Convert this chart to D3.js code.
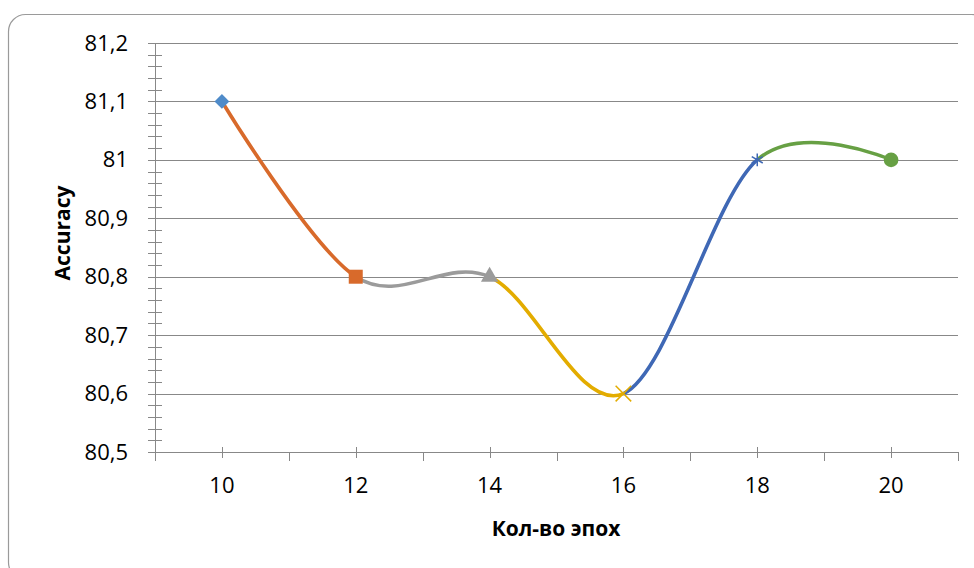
<!DOCTYPE html>
<meta charset="utf-8">

<style>

body {
  margin: 0;
  background: white;
}

svg.chart text {
  font-family: "Open Sans", sans-serif;
  fill: black;
}

svg.chart .grid line,
svg.chart .ticks line,
svg.chart .axisline {
  stroke: #888;
  stroke-width: 1;
}

svg.chart .axis path,
svg.chart .axis line {
  display: none;
}

svg.chart .axis text {
  font-size: 22px;
}

svg.chart text.title {
  font-size: 21px;
  font-weight: bold;
  text-anchor: middle;
}

</style>

<svg class="chart" width="974" height="568"></svg>

<script src="https://d3js.org/d3.v7.min.js"></script>

<script>

// data
var epochs = ["10", "12", "14", "16", "18", "20"];
var accuracy = [81.1, 80.8, 80.8, 80.6, 81.0, 81.0];
var pointColors = ["#4F8BC9", "#D86A2B", "#9B9B9B", "#E3AC00", "#3F68B5", "#67A044"];
var yTicks = [80.5, 80.6, 80.7, 80.8, 80.9, 81.0, 81.1, 81.2];
var yTickLabels = ["80,5", "80,6", "80,7", "80,8", "80,9", "81", "81,1", "81,2"];
var yMinorTicks = d3.range(80.5, 81.2001, 0.02);

var svg = d3.select("svg.chart");
var plot = {left: 155, right: 958, top: 43, bottom: 452};

// chart area frame
svg.append("rect")
  .attr("x", 8.5)
  .attr("y", 14.5)
  .attr("width", 980)
  .attr("height", 565)
  .attr("rx", 17)
  .attr("fill", "white")
  .attr("stroke", "#9a9a9a")
  .attr("stroke-width", 1.2);

var xScale = d3.scaleBand()
  .domain(epochs)
  .range([plot.left, plot.right]);

var yScale = d3.scaleLinear()
  .domain([80.5, 81.2])
  .range([plot.bottom, plot.top]);

function xCenter(d) { return xScale(d) + xScale.bandwidth() / 2; }

// gridlines
svg.append("g")
  .attr("class", "grid")
  .selectAll("line")
  .data(yTicks)
  .enter().append("line")
    .attr("x1", plot.left)
    .attr("x2", plot.right)
    .attr("y1", function(d) { return Math.round(yScale(d)) + 0.5; })
    .attr("y2", function(d) { return Math.round(yScale(d)) + 0.5; });

// y axis
var yAxis = d3.axisLeft(yScale)
  .tickValues(yTicks)
  .tickSize(0)
  .tickPadding(27)
  .tickFormat(function(d, i) { return yTickLabels[i]; });

svg.append("g")
  .attr("class", "y axis")
  .attr("transform", `translate(${plot.left},0)`)
  .call(yAxis);

var yTickG = svg.append("g").attr("class", "ticks");
yTickG.selectAll("line")
  .data(yMinorTicks)
  .enter().append("line")
    .attr("x1", plot.left - 7)
    .attr("x2", plot.left + 7)
    .attr("y1", function(d) { return Math.round(yScale(d)) + 0.5; })
    .attr("y2", function(d) { return Math.round(yScale(d)) + 0.5; });

svg.append("line")
  .attr("class", "axisline")
  .attr("x1", plot.left + 0.5)
  .attr("x2", plot.left + 0.5)
  .attr("y1", plot.top)
  .attr("y2", plot.bottom);

// x axis
var xAxis = d3.axisBottom(xScale)
  .tickSize(0)
  .tickPadding(25);

svg.append("g")
  .attr("class", "x axis")
  .attr("transform", `translate(0,${plot.bottom})`)
  .call(xAxis);

var xTickG = svg.append("g").attr("class", "ticks");
var bounds = epochs.map(function(d) { return xScale(d); }).concat([plot.right]);
xTickG.selectAll("line.major")
  .data(bounds)
  .enter().append("line")
    .attr("class", "major")
    .attr("x1", function(d) { return Math.round(d) + 0.5; })
    .attr("x2", function(d) { return Math.round(d) + 0.5; })
    .attr("y1", plot.bottom)
    .attr("y2", plot.bottom + 9);

xTickG.selectAll("line.minor")
  .data(epochs)
  .enter().append("line")
    .attr("class", "minor")
    .attr("x1", function(d) { return Math.round(xCenter(d)) + 0.5; })
    .attr("x2", function(d) { return Math.round(xCenter(d)) + 0.5; })
    .attr("y1", plot.bottom - 5)
    .attr("y2", plot.bottom + 6);

svg.append("line")
  .attr("class", "axisline")
  .attr("x1", plot.left)
  .attr("x2", plot.right)
  .attr("y1", plot.bottom + 0.5)
  .attr("y2", plot.bottom + 0.5);

// axis titles
svg.append("text")
  .attr("class", "title")
  .attr("transform", "translate(70,233) rotate(-90)")
  .text("Accuracy");

svg.append("text")
  .attr("class", "title")
  .attr("x", 556)
  .attr("y", 536)
  .text("Кол-во эпох");

// smoothed line, each segment coloured by its end point
var data = epochs.map(function(d, i) { return {epoch: d, value: accuracy[i], color: pointColors[i]}; });

var line = d3.line()
  .x(function(d) { return xCenter(d.epoch); })
  .y(function(d) { return yScale(d.value); })
  .curve(d3.curveCardinal.tension(0));

var defs = svg.append("defs");
data.slice(1).forEach(function(d, i) {
  defs.append("clipPath")
    .attr("id", "seg" + i)
    .append("rect")
      .attr("x", xCenter(data[i].epoch))
      .attr("y", 0)
      .attr("width", xCenter(d.epoch) - xCenter(data[i].epoch))
      .attr("height", 568);

  svg.append("path")
    .datum(data)
    .attr("clip-path", "url(#seg" + i + ")")
    .attr("d", line)
    .attr("fill", "none")
    .attr("stroke", d.color)
    .attr("stroke-width", 3.6);
});

// markers
var starSymbol = {
  draw: function(context, size) {
    var r = Math.sqrt(size) / 2;
    var a = r * 0.87;
    context.moveTo(0, -r); context.lineTo(0, r);
    context.moveTo(-a, -r / 2); context.lineTo(a, r / 2);
    context.moveTo(-a, r / 2); context.lineTo(a, -r / 2);
  }
};

var markers = [
  {type: d3.symbolSquare, size: 110, rotate: 45, fill: true},
  {type: d3.symbolSquare, size: 196, rotate: 0, fill: true},
  {type: d3.symbolTriangle, size: 130, rotate: 0, fill: true},
  {type: d3.symbolX, size: 160, rotate: 0, fill: false},
  {type: starSymbol, size: 160, rotate: 0, fill: false},
  {type: d3.symbolCircle, size: 170, rotate: 0, fill: true}
];

svg.selectAll("path.marker")
  .data(data)
  .enter().append("path")
    .attr("class", "marker")
    .attr("transform", function(d, i) {
      return `translate(${xCenter(d.epoch)},${yScale(d.value)}) rotate(${markers[i].rotate})`;
    })
    .attr("d", function(d, i) { return d3.symbol(markers[i].type, markers[i].size)(); })
    .attr("fill", function(d, i) { return markers[i].fill ? d.color : "none"; })
    .attr("stroke", function(d, i) { return markers[i].fill ? "none" : d.color; })
    .attr("stroke-width", 1.5);

</script>
